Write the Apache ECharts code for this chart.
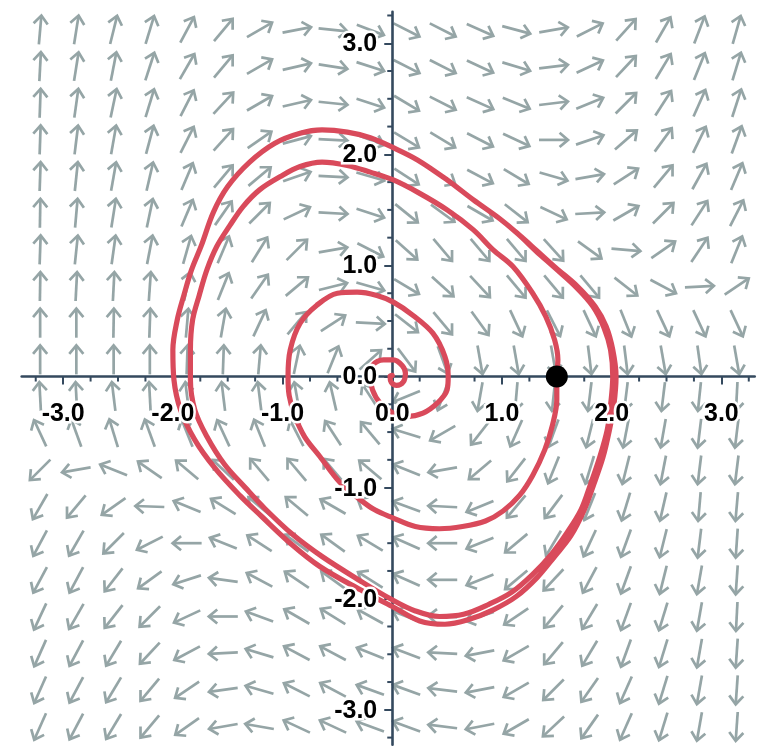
<!DOCTYPE html>
<html><head><meta charset="utf-8">
<script src="https://cdn.jsdelivr.net/npm/echarts@6/dist/echarts.min.js"></script>
<style>html,body{margin:0;padding:0;background:#fff}#c{width:773px;height:748px}</style>
</head><body><div id="c"></div>
<script>
// arrow grid (cell centres)
const gridX = [-3.21,-2.88,-2.54,-2.21,-1.87,-1.54,-1.21,-0.87,-0.54,-0.2,0.13,0.46,0.8,1.13,1.47,1.8,2.13,2.47,2.8,3.14];
const gridY = [3.12,2.79,2.46,2.13,1.80,1.47,1.14,0.81,0.48,0.15,-0.18,-0.51,-0.84,-1.17,-1.50,-1.83,-2.16,-2.49,-2.82,-3.15];
// arrow directions (degrees, counter-clockwise from +x), one row per gridY value
const fieldAngles = [
 [85,81,76,73,62,50,30,11,-6,-21,-27,-27,-24,-15,10,27,48,60,69,74],
 [87,81,79,72,60,50,30,13,-9,-18,-27,-27,-25,-17,7,25,47,59,68,73],
 [88,82,78,73,63,47,30,13,-6,-18,-31,-27,-24,-22,7,22,45,57,66,72],
 [88,83,80,75,63,48,35,15,-3,-21,-31,-31,-27,-25,0,19,41,54,64,70],
 [88,84,80,77,67,50,40,19,-3,-16,-33,-31,-28,-31,-16,10,33,50,61,67],
 [89,85,81,78,67,55,45,25,-3,-18,-39,-36,-30,-38,-25,3,30,45,57,63],
 [88,84,82,79,74,67,58,45,10,-27,-42,-50,-50,-50,-48,-36,-5,35,56,68],
 [89,87,87,86,78,68,55,40,14,-16,-31,-42,-47,-50,-50,-50,-38,-28,3,34],
 [90,90,89,88,85,80,65,50,33,-3,-38,-50,-54,-65,-63,-65,-68,-65,-65,-65],
 [90,90,90,90,88,88,85,78,68,42,-53,-70,-80,-80,-80,-83,-83,-80,-82,-80],
 [93,93,97,93,97,97,97,100,103,123,-158,-110,-100,-95,-96,-97,-97,-97,-96,-93],
 [115,110,107,110,112,115,112,117,123,130,163,-150,-128,-114,-110,-104,-101,-100,-97,-97],
 [-135,-170,158,145,140,137,130,130,130,140,158,-170,-140,-128,-112,-107,-104,-101,-97,-97],
 [-120,-130,-145,178,158,148,140,140,150,150,160,177,-158,-130,-127,-112,-107,-103,-95,-95],
 [-118,-120,-135,-153,180,158,147,144,144,149,156,180,-158,-140,-121,-115,-110,-104,-97,-94],
 [-118,-118,-128,-144,-162,172,152,146,144,148,156,180,-158,-140,-133,-118,-110,-104,-100,-94],
 [-115,-120,-128,-135,-155,180,160,150,148,151,159,177,-162,-146,-130,-121,-110,-107,-100,-93],
 [-114,-118,-121,-133,-152,-177,163,152,152,158,159,177,-169,-150,-130,-121,-110,-107,-100,-94],
 [-114,-118,-121,-130,-146,-172,164,153,152,160,160,173,-169,-150,-135,-125,-114,-107,-100,-94],
 [-114,-118,-121,-130,-145,-170,170,155,155,160,160,173,-169,-150,-137,-125,-114,-107,-100,-94]
];
const majorTicks = [-3,-2,-1,0,1,2,3];
const minorTicks = [-3.25,-2.75,-2.5,-2.25,-1.75,-1.5,-1.25,-0.75,-0.5,-0.25,0.25,0.5,0.75,1.25,1.5,1.75,2.25,2.5,2.75,3.25];
const tickLabels = [-3,-2,-1,0,1,2,3];
// trajectory
const trajectory = [
 [-0.84,2.19],[-0.64,2.22],[-0.41,2.20],[-0.20,2.15],[0.01,2.06],[0.23,1.95],[0.50,1.77],[0.74,1.59],[0.98,1.42],[1.15,1.28],
 [1.31,1.14],[1.49,0.98],[1.69,0.81],[1.85,0.63],[1.95,0.45],[2.01,0.24],[2.04,0.00],[2.02,-0.26],[1.98,-0.48],[1.92,-0.73],
 [1.83,-0.99],[1.75,-1.20],[1.63,-1.43],[1.48,-1.62],[1.32,-1.81],[1.13,-1.98],[0.92,-2.10],[0.69,-2.19],[0.48,-2.23],[0.25,-2.20],
 [0.00,-2.07],[-0.29,-1.92],[-0.66,-1.71],[-0.93,-1.50],[-1.19,-1.26],[-1.39,-1.07],[-1.62,-0.82],[-1.80,-0.57],[-1.93,-0.30],[-1.99,-0.03],
 [-2.00,0.24],[-1.96,0.51],[-1.90,0.73],[-1.83,0.96],[-1.74,1.18],[-1.63,1.48],[-1.50,1.71],[-1.30,1.93],[-1.07,2.10],
 [-0.84,2.19],[-0.64,2.22],[-0.41,2.20],[-0.20,2.15],[0.01,2.06],[0.23,1.95],[0.50,1.77],[0.74,1.59],[0.98,1.42],[1.15,1.28],
 [1.31,1.13],[1.48,0.98],[1.68,0.80],[1.83,0.63],[1.93,0.44],[1.99,0.24],[2.01,0.00],[1.99,-0.26],[1.96,-0.48],[1.89,-0.73],
 [1.80,-0.99],[1.72,-1.20],[1.59,-1.41],[1.45,-1.60],[1.28,-1.78],[1.09,-1.94],[0.88,-2.05],[0.65,-2.14],[0.43,-2.16],[0.21,-2.11],
 [0.00,-2.01],[-0.29,-1.84],[-0.64,-1.62],[-0.91,-1.42],[-1.16,-1.19],[-1.34,-1.00],[-1.53,-0.79],[-1.69,-0.54],[-1.80,-0.30],[-1.84,-0.03],
 [-1.84,0.24],[-1.82,0.51],[-1.76,0.73],[-1.69,0.96],[-1.60,1.17],[-1.48,1.36],[-1.36,1.53],[-1.21,1.68],[-1.02,1.80],[-0.84,1.89],
 [-0.64,1.93],[-0.41,1.90],[-0.20,1.84],[0.01,1.77],[0.23,1.66],[0.50,1.50],[0.74,1.32],[0.92,1.14],
 [1.10,0.99],[1.28,0.75],[1.40,0.54],[1.48,0.33],[1.51,0.15],[1.50,0.00],[1.50,-0.21],[1.46,-0.44],[1.39,-0.66],[1.28,-0.89],
 [1.16,-1.07],[1.01,-1.21],[0.85,-1.30],[0.64,-1.35],[0.43,-1.37],[0.21,-1.35],[0.00,-1.27],[-0.16,-1.20],[-0.29,-1.11],[-0.48,-0.95],
 [-0.66,-0.72],[-0.80,-0.54],[-0.89,-0.35],[-0.94,-0.17],[-0.95,0.00],[-0.93,0.24],[-0.84,0.48],[-0.69,0.64],[-0.50,0.75],[-0.32,0.76],
 [-0.14,0.73],[0.01,0.67],[0.19,0.55],[0.37,0.39],[0.48,0.18],[0.51,0.00],[0.50,-0.12],[0.41,-0.24],[0.28,-0.33],[0.13,-0.36],
 [0.01,-0.33],[-0.11,-0.24],[-0.18,-0.12],[-0.20,0.00],[-0.18,0.10],[-0.08,0.15],[0.01,0.15],[0.09,0.10],[0.12,0.03],[0.10,-0.05],
 [0.04,-0.08],[-0.01,-0.05],[-0.02,0.00],[0.00,0.01]
];
const startPoint = [[1.5, 0]];

const X_MIN = -3.378, X_MAX = 3.304, Y_MIN = -3.314, Y_MAX = 3.284;
const AXIS_COLOR = '#34495e';
const ARROW_COLOR = '#95a5a6';
const CURVE_COLOR = '#d94a5b';
const LABEL_FONT = 'bold 25px "Liberation Sans", Arial, Helvetica, sans-serif';

const fieldData = [];
for (let j = 0; j < gridY.length; j++) {
  for (let k = 0; k < gridX.length; k++) {
    fieldData.push([gridX[k], gridY[j], fieldAngles[j][k]]);
  }
}
const xMinorData = minorTicks.map(function (v) { return [v, 0]; });
const yMinorData = minorTicks.map(function (v) { return [0, v]; });
const xLabelData = tickLabels.map(function (v) { return [v, 0]; });
const yLabelData = tickLabels.map(function (v) { return [0, v]; });

function renderArrow(params, api) {
  const c = api.coord([api.value(0), api.value(1)]);
  const a = api.value(2) * Math.PI / 180;
  const ux = Math.cos(a), uy = -Math.sin(a);
  const half = 14.5;
  const tail = [c[0] - ux * half, c[1] - uy * half];
  const tip = [c[0] + ux * half, c[1] + uy * half];
  const hl = 11, ha = 40 * Math.PI / 180;
  const bx = -ux, by = -uy;
  const p1 = [tip[0] + hl * (bx * Math.cos(ha) - by * Math.sin(ha)), tip[1] + hl * (bx * Math.sin(ha) + by * Math.cos(ha))];
  const p2 = [tip[0] + hl * (bx * Math.cos(-ha) - by * Math.sin(-ha)), tip[1] + hl * (bx * Math.sin(-ha) + by * Math.cos(-ha))];
  const style = { stroke: ARROW_COLOR, lineWidth: 2.7, fill: null, lineCap: 'butt', lineJoin: 'miter' };
  return {
    type: 'group',
    children: [
      { type: 'line', shape: { x1: tail[0], y1: tail[1], x2: tip[0], y2: tip[1] }, style: style },
      { type: 'polyline', shape: { points: [p1, tip, p2] }, style: style }
    ]
  };
}
function renderXMinor(params, api) {
  const c = api.coord([api.value(0), api.value(1)]);
  return { type: 'line', shape: { x1: c[0], y1: c[1], x2: c[0], y2: c[1] + 5 }, style: { stroke: AXIS_COLOR, lineWidth: 2 } };
}
function renderYMinor(params, api) {
  const c = api.coord([api.value(0), api.value(1)]);
  return { type: 'line', shape: { x1: c[0] - 5, y1: c[1], x2: c[0], y2: c[1] }, style: { stroke: AXIS_COLOR, lineWidth: 2 } };
}
function labelText(x, y, text, align) {
  return { type: 'text', x: x, y: y, style: { text: text, font: LABEL_FONT, fill: '#000', stroke: '#fff', lineWidth: 5,
    strokeFirst: true, align: align, verticalAlign: 'middle' } };
}
function renderXLabel(params, api) {
  const c = api.coord([api.value(0), api.value(1)]);
  return labelText(c[0], c[1] + 38, Number(api.value(0)).toFixed(1), 'center');
}
function renderYLabel(params, api) {
  const c = api.coord([api.value(0), api.value(1)]);
  return labelText(c[0] - 15, c[1] + 1, Number(api.value(1)).toFixed(1), 'right');
}

function makeAxis(isX) {
  return {
    type: 'value', min: isX ? X_MIN : Y_MIN, max: isX ? X_MAX : Y_MAX,
    position: isX ? 'bottom' : 'left',
    splitLine: { show: false },
    axisLine: { show: true, onZero: true, onZeroAxisIndex: 0, lineStyle: { color: AXIS_COLOR, width: 2.6 } },
    axisTick: { show: true, customValues: majorTicks, length: 8, lineStyle: { color: AXIS_COLOR, width: 2 } },
    axisLabel: { show: false },
    z: 1
  };
}

const chart = echarts.init(document.getElementById('c'), null, { renderer: 'canvas' });
chart.setOption({
  animation: false,
  backgroundColor: '#fff',
  grid: { left: 21.7, top: 11.7, width: 733, height: 733, containLabel: false, outerBoundsMode: 'none' },
  xAxis: makeAxis(true),
  yAxis: makeAxis(false),
  series: [
    { type: 'custom', data: fieldData, renderItem: renderArrow, silent: true, z: 1 },
    { type: 'custom', data: xMinorData, renderItem: renderXMinor, silent: true, z: 1 },
    { type: 'custom', data: yMinorData, renderItem: renderYMinor, silent: true, z: 1 },
    { type: 'line', data: trajectory, showSymbol: false, smooth: 0.35, silent: true,
      lineStyle: { color: CURVE_COLOR, width: 5.2, cap: 'round', join: 'round' }, z: 3 },
    { type: 'scatter', data: startPoint, symbolSize: 22, silent: true, itemStyle: { color: '#000', opacity: 1 }, z: 5 },
    { type: 'custom', data: xLabelData, renderItem: renderXLabel, silent: true, z: 10 },
    { type: 'custom', data: yLabelData, renderItem: renderYLabel, silent: true, z: 10 }
  ]
});
</script></body></html>
